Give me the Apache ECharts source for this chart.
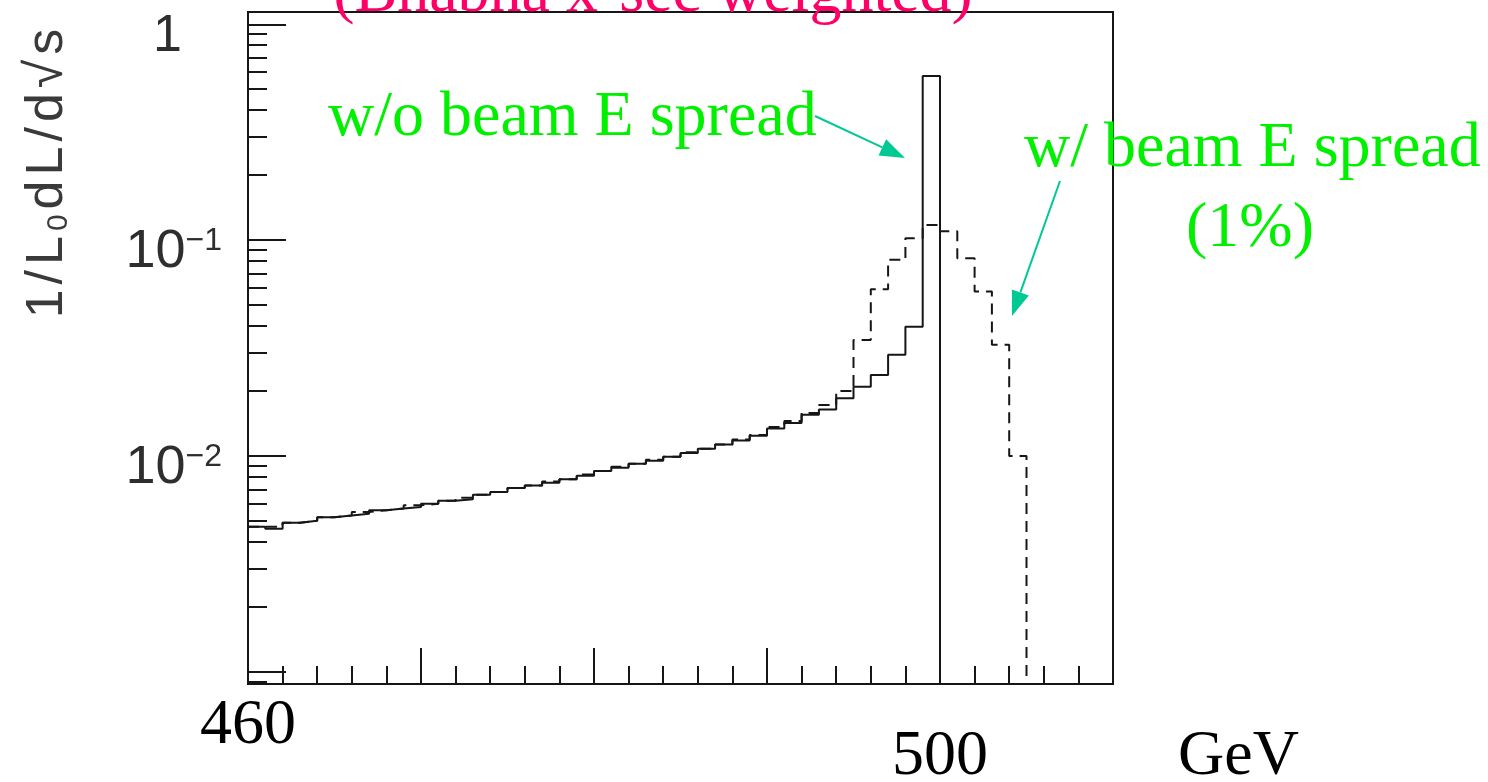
<!DOCTYPE html>
<html>
<head>
<meta charset="utf-8">
<script src="https://cdn.jsdelivr.net/npm/echarts@6/dist/echarts.min.js"></script>
<style>
html,body{margin:0;padding:0;background:#fff;}
#chart{width:1488px;height:782px;}
</style>
</head>
<body>
<div id="chart"></div>
<script>
// ---- data ----
// bin edges in GeV (1 GeV bins)
const solidEdges = [460,461,462,463,464,465,466,467,468,469,470,471,472,473,474,475,476,477,478,479,
                    480,481,482,483,484,485,486,487,488,489,490,491,492,493,494,495,496,497,498,499,500];
// 1/L0 dL/d sqrt(s) without beam energy spread
const solidValues = [0.0047,0.0046,0.0049,0.0050,0.0052,0.0053,0.0054,0.0056,0.0057,0.0058,
                     0.0060,0.0062,0.0063,0.0066,0.0068,0.0071,0.0073,0.0075,0.0078,0.0081,
                     0.0085,0.0088,0.0092,0.0095,0.0099,0.0103,0.0108,0.0113,0.0118,0.0124,
                     0.0134,0.0142,0.0155,0.0164,0.0185,0.0209,0.0237,0.0294,0.0397,0.576];
const spreadEdges = [460,461,462,463,464,465,466,467,468,469,470,471,472,473,474,475,476,477,478,479,
                     480,481,482,483,484,485,486,487,488,489,490,491,492,493,494,495,496,497,498,499,
                     500,501,502,503,504,505];
// with 1% beam energy spread
const spreadValues = [0.0047,0.0047,0.0049,0.0050,0.0052,0.0053,0.0055,0.0056,0.0057,0.0059,
                      0.0060,0.0062,0.0064,0.0066,0.0068,0.0071,0.0073,0.0076,0.0078,0.0082,
                      0.0085,0.0089,0.0092,0.0096,0.0099,0.0104,0.0108,0.0113,0.0119,0.0125,
                      0.0136,0.0145,0.0158,0.0172,0.0200,0.0344,0.0592,0.0810,0.1020,0.1175,
                      0.1100,0.0824,0.0578,0.0327,0.0100];
const ZERO_FLOOR = 1e-4; // "empty" level, below the visible log range

const xMin = 460, xMax = 510;
const xLabelValues = [460, 500];
const xName = 'GeV';

const yMin = 0.000877, yMax = 1.14;
const yMajorTicks = [0.001, 0.01, 0.1, 1];
const yMinorTicks = [0.0009,
  0.002,0.003,0.004,0.005,0.006,0.007,0.008,0.009,
  0.02,0.03,0.04,0.05,0.06,0.07,0.08,0.09,
  0.2,0.3,0.4,0.5,0.6,0.7,0.8,0.9];
const yLabelValues = [1, 0.1, 0.01];
const yLabelBase = ['1', '10', '10'];
const yLabelExp = ['', '\u22121', '\u22122'];
const yNameParts = ['1', '/', 'L', '0', 'd', 'L', '/', 'd', '\u221A', 's']; // '0' is the subscript of L

const titleText = '(Bhabha x-sec weighted)';
const noteNoSpread = 'w/o beam E spread';
const noteSpread1 = 'w/ beam E spread';
const noteSpread2 = '(1%)';

// ---- build ----
function histData(edges, values) {
  const d = [];
  for (let i = 0; i < values.length; i++) d.push([edges[i], values[i]]);
  d.push([edges[values.length], values[values.length - 1]]);
  d.push([edges[values.length], ZERO_FLOOR]);
  return d;
}

const INK = '#161616';
const SERIF = '"Liberation Serif", "Times New Roman", serif';
const SANS = '"Liberation Sans", Arial, sans-serif';
const GREEN = '#00f000';
const TEAL = '#00c993';
const LABEL_GRAY = '#2e2e2e';

function arrow(x1, y1, x2, y2, headLen, headHalf) {
  const dx = x2 - x1, dy = y2 - y1, L = Math.hypot(dx, dy);
  const ux = dx / L, uy = dy / L;
  const bx = x2 - ux * headLen, by = y2 - uy * headLen;
  const px = -uy * headHalf, py = ux * headHalf;
  return [
    {type:'line', z:100, shape:{x1:x1, y1:y1, x2:bx, y2:by}, style:{stroke:TEAL, lineWidth:2}},
    {type:'polygon', z:100, shape:{points:[[x2,y2],[bx+px,by+py],[bx-px,by-py]]}, style:{fill:TEAL}}
  ];
}

const yNameRich = yNameParts.map((c, i) => (i === 3 ? '{sub|' + c + '}' : '{t|' + c + '}')).join('');

const chart = echarts.init(document.getElementById('chart'), null, {renderer:'canvas'});
const option = {
  animation: false,
  backgroundColor: '#ffffff',
  grid: {
    left: 248, top: 12, right: 375, bottom: 98,
    containLabel: false, outerBoundsMode: 'none',
    show: true, borderColor: INK, borderWidth: 2, backgroundColor: 'transparent'
  },
  xAxis: {
    type: 'value', min: xMin, max: xMax, interval: 10,
    axisLine: {show: true, onZero: false, lineStyle: {color: INK, width: 2}},
    axisTick: {show: true, inside: true, length: 36, lineStyle: {color: INK, width: 2}},
    minorTick: {show: true, splitNumber: 5, length: 18, lineStyle: {color: INK, width: 2}},
    splitLine: {show: false}, minorSplitLine: {show: false},
    axisLabel: {
      margin: 10, showMinLabel: true, showMaxLabel: true,
      formatter: function (v) {
        if (v === xLabelValues[0]) return '{a|' + v + '}';
        if (v === xLabelValues[1]) return '{b|' + v + '}';
        return '';
      },
      rich: {
        a: {fontFamily: SERIF, fontSize: 64, color: '#000', lineHeight: 64},
        b: {fontFamily: SERIF, fontSize: 64, color: '#000', lineHeight: 64, padding: [62, 0, 0, 0]}
      }
    },
    name: xName, nameLocation: 'end', nameGap: 65,
    nameTextStyle: {fontFamily: SERIF, fontSize: 64, color: '#000', verticalAlign: 'top', lineHeight: 64, padding: [41, 0, 0, 0]}
  },
  yAxis: [{
    type: 'log', logBase: 10, min: yMin, max: yMax, position: 'left',
    axisLine: {show: true, onZero: false, lineStyle: {color: INK, width: 2}},
    axisTick: {show: true, inside: true, length: 38, customValues: yMajorTicks, lineStyle: {color: INK, width: 2}},
    minorTick: {show: false}, splitLine: {show: false},
    axisLabel: {
      customValues: yLabelValues, margin: 26, padding: [24, 0, 0, 0],
      formatter: function (v) {
        const i = yLabelValues.findIndex(u => Math.abs(u - v) / u < 1e-6);
        if (i < 0) return '';
        if (!yLabelExp[i]) return '{one|' + yLabelBase[i] + '}';
        return '{n|' + yLabelBase[i] + '}{s|' + yLabelExp[i] + '}';
      },
      rich: {
        one: {fontFamily: SANS, fontSize: 52, color: LABEL_GRAY, padding: [0, 40, 0, 0]},
        n: {fontFamily: SANS, fontSize: 54, color: LABEL_GRAY},
        s: {fontFamily: SANS, fontSize: 32, color: LABEL_GRAY, verticalAlign: 'top'}
      }
    },
    name: yNameRich,
    nameLocation: 'middle', nameGap: 174, nameRotate: 90,
    nameTextStyle: {
      padding: [0, 0, 0, 354],
      rich: {
        t: {fontFamily: SANS, fontSize: 52, color: '#3a3a3a', padding: [0, 5, 0, 0]},
        sub: {fontFamily: SANS, fontSize: 30, color: '#3a3a3a', verticalAlign: 'bottom', padding: [0, 5, 0, 0]}
      }
    }
  }, {
    type: 'log', logBase: 10, min: yMin, max: yMax, position: 'left', offset: 0,
    axisLine: {show: false},
    axisTick: {show: true, inside: true, length: 19, customValues: yMinorTicks, lineStyle: {color: INK, width: 2}},
    minorTick: {show: false}, splitLine: {show: false},
    axisLabel: {show: false}
  }],
  series: [{
    name: 'w/ beam E spread', type: 'line', step: 'end', yAxisIndex: 0,
    data: histData(spreadEdges, spreadValues),
    symbol: 'none', clip: true, z: 2,
    lineStyle: {color: INK, width: 2, type: [11, 7]}
  }, {
    name: 'w/o beam E spread', type: 'line', step: 'end', yAxisIndex: 0,
    data: histData(solidEdges, solidValues),
    symbol: 'none', clip: true, z: 3,
    lineStyle: {color: INK, width: 2}
  }],
  graphic: [
    {type: 'text', z: 100, x: 653, y: -6,
     style: {text: titleText, fill: '#ff0066', fontFamily: SERIF, fontSize: 64, align: 'center', verticalAlign: 'middle'}},
    {type: 'text', z: 100, x: 328, y: 118,
     style: {text: noteNoSpread, fill: GREEN, fontFamily: SERIF, fontSize: 64, align: 'left', verticalAlign: 'middle'}},
    {type: 'text', z: 100, x: 1024, y: 149,
     style: {text: noteSpread1, fill: GREEN, fontFamily: SERIF, fontSize: 64, align: 'left', verticalAlign: 'middle'}},
    {type: 'text', z: 100, x: 1250, y: 229,
     style: {text: noteSpread2, fill: GREEN, fontFamily: SERIF, fontSize: 64, align: 'center', verticalAlign: 'middle'}}
  ].concat(arrow(815, 116, 905, 158, 25, 9), arrow(1060, 181, 1012, 316, 25, 9))
};
chart.setOption(option);
</script>
</body>
</html>
